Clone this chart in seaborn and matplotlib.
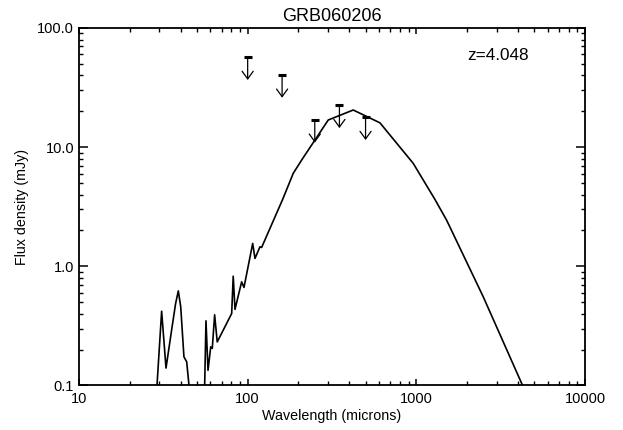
import pandas as pd
import matplotlib
matplotlib.use("Agg")
import matplotlib.pyplot as plt
import matplotlib.ticker as mticker
import seaborn as sns

# model SED (two visible pieces, the rest falls below 0.1 mJy)
wave_a = [29.0, 30.9, 32.8, 35.4, 37.4, 38.8, 40.1, 41.9, 43.5, 44.9]
flux_a = [0.1, 0.42, 0.14, 0.291, 0.488, 0.622, 0.457, 0.174, 0.158, 0.1]

wave_b = [55.6, 56.6, 58.2, 60.4, 61.7, 63.7, 66.0, 80.4, 82.1, 84.1, 92.1, 95.1,
          107.1, 110.5, 118.3, 121.0, 161.3, 186.3, 208.9, 250.5, 300.4, 422.6,
          608.6, 958.6, 1288.0, 1512.0, 2493.0, 4266.0, 5012.0]
flux_b = [0.1, 0.349, 0.134, 0.211, 0.205, 0.392, 0.232, 0.402, 0.827, 0.435, 0.741, 0.665,
          1.556, 1.165, 1.458, 1.44, 3.65, 6.03, 7.79, 11.47, 16.9, 20.5,
          16.0, 7.31, 3.65, 2.44, 0.555, 0.1, 0.06]

# upper limits (mJy)
lim_wave = [100, 160, 250, 350, 500]
lim_flux = [56.8, 40.3, 16.9, 22.4, 17.8]

xticks = [10, 100, 1000, 10000]
xtick_labels = ["10", "100", "1000", "10000"]
yticks = [0.1, 1, 10, 100]
ytick_labels = ["0.1", "1.0", "10.0", "100.0"]

sed = pd.concat([
    pd.DataFrame({"wave": wave_a, "flux": flux_a, "seg": 0}),
    pd.DataFrame({"wave": wave_b, "flux": flux_b, "seg": 1}),
])
lims = pd.DataFrame({"wave": lim_wave, "flux": lim_flux})

sns.set_style("ticks")
plt.rcParams["font.family"] = ["Liberation Sans", "DejaVu Sans"]
plt.rcParams["text.color"] = "black"
plt.rcParams["axes.labelcolor"] = "black"

fig = plt.figure(figsize=(6.23, 4.30), dpi=100)
ax = fig.add_axes([0.1268, 0.1035, 0.8122, 0.8314])
ax.set_xscale("log")
ax.set_yscale("log")

sns.lineplot(data=sed, x="wave", y="flux", units="seg", estimator=None, sort=False,
             color="black", linewidth=1.2, ax=ax)

# upper limit arrows: cap bar at the limit, open arrow pointing down
sns.scatterplot(data=lims, x="wave", y="flux", marker="_", s=28, color="black",
                linewidth=2.2, ax=ax, zorder=3)
for w, f in zip(lim_wave, lim_flux):
    ax.annotate("", xy=(w, f * 0.645), xytext=(w, f),
                arrowprops=dict(arrowstyle="->,head_length=0.55,head_width=0.4",
                                color="black", lw=0.9, shrinkA=0, shrinkB=0))

ax.set_xlim(10, 10000)
ax.set_ylim(0.1, 100)
ax.xaxis.set_major_locator(mticker.FixedLocator(xticks))
ax.xaxis.set_major_formatter(mticker.FixedFormatter(xtick_labels))
ax.yaxis.set_major_locator(mticker.FixedLocator(yticks))
ax.yaxis.set_major_formatter(mticker.FixedFormatter(ytick_labels))
ax.xaxis.set_minor_locator(mticker.LogLocator(base=10, subs=range(2, 10), numticks=20))
ax.yaxis.set_minor_locator(mticker.LogLocator(base=10, subs=range(2, 10), numticks=20))
ax.xaxis.set_minor_formatter(mticker.NullFormatter())
ax.yaxis.set_minor_formatter(mticker.NullFormatter())

ax.tick_params(which="both", direction="in", top=True, right=True, color="black",
               labelsize=10.5, labelcolor="black")
ax.tick_params(axis="x", which="major", length=4.5, width=1.1, pad=4.5)
ax.tick_params(axis="y", which="major", length=6.5, width=1.1, pad=3.5)
ax.tick_params(which="minor", length=2.8, width=1.0)
for s in ax.spines.values():
    s.set_color("black")
    s.set_linewidth(1.3)

ax.set_xlabel("Wavelength (microns)", fontsize=10.3, labelpad=2.5)
ax.set_ylabel("Flux density (mJy)", fontsize=10.3, labelpad=6)
ax.set_title("GRB060206", fontsize=13, pad=5, color="black")
ax.text(0.767, 0.924, "z=4.048", transform=ax.transAxes, fontsize=12.3,
        ha="left", va="center", color="black")

fig.savefig("out.png", dpi=100, facecolor="white")
